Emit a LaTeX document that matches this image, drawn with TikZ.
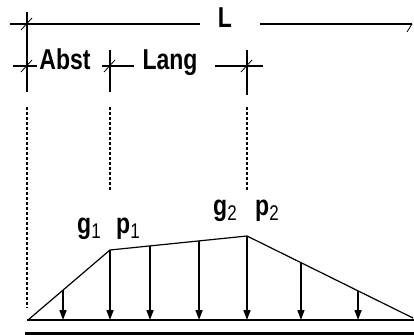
\documentclass[tikz,border=0pt]{standalone}
\usepackage{fontspec}
\setmainfont{Liberation Sans}
\usetikzlibrary{arrows.meta,calc}
\newcommand{\ldsub}[1]{\raisebox{-4pt}{\mdseries\fontsize{17}{17}\selectfont #1}}
\newcommand{\tall}[1]{\scalebox{1}[1.25]{#1}}

\begin{document}
\begin{tikzpicture}[
    x=1pt, y=-1pt,
    dimline/.style={line width=1.3pt},
    slash/.style={line width=0.8pt},
    dotline/.style={line width=1.3pt, dash pattern=on 2.5pt off 2.5pt},
    loadline/.style={line width=1.2pt},
    loadarrow/.style={line width=1.5pt, -{Triangle[width=7pt,length=10pt]}},
    lbl/.style={font=\bfseries\fontsize{23}{23}\selectfont, inner sep=0pt, anchor=base},
    dimtick/.pic={\draw[slash] (-6,6) -- (5,-6);}
]
\useasboundingbox (0,0) rectangle (414,334);

% dimension points
\coordinate (t0) at (27,24);
\coordinate (tl) at (10,24);
\coordinate (tm1) at (200,24);
\coordinate (tm2) at (260,24);
\coordinate (tr) at (412,24);
\coordinate (s0) at (27,66);
\coordinate (s1) at (110,66);
\coordinate (s2) at (247,66);

% load corners
\coordinate (q0) at (28,320);
\coordinate (q1) at (110,250);
\coordinate (q2) at (247,236);
\coordinate (q3) at (413,318);
\coordinate (b0) at (27,320);
\coordinate (b1) at (414,320);

% labels
\node[lbl] (L) at (225,28) {\tall{L}};
\node[lbl] (abst) at (65,70) {\tall{Abst}};
\node[lbl] (lang) at (170,70) {\tall{Lang}};
\node[lbl, anchor=base west] (g1) at (77,233) {\tall{g\ldsub{1}}};
\node[lbl, anchor=base west] (p1) at (116,233) {\tall{p\ldsub{1}}};
\node[lbl, anchor=base west] (g2) at (213,215) {\tall{g\ldsub{2}}};
\node[lbl, anchor=base west] (p2) at (255,215) {\tall{p\ldsub{2}}};

% overall length L
\draw[dimline] (tl) -- (tm1);
\draw[dimline] (tm2) -- (tr);
\draw[slash] (tr) -- ++(-5,8);
\pic at (t0) {dimtick};

% Abst and Lang
\draw[dimline] (27,12) -- (27,92);
\draw[dimline] (110,50) -- (110,92);
\draw[dimline] (247,50) -- (247,95);
\draw[dimline] ($(s0)+(-14,0)$) -- ($(s0)+(10,0)$);
\draw[dimline] ($(s1)+(-8,0)$) -- ($(s1)+(24,0)$);
\draw[dimline] ($(s2)+(-32,0)$) -- ($(s2)+(16,0)$);
\foreach \p in {s0,s1,s2}
    \pic at (\p) {dimtick};

% projection lines
\draw[dotline] (27,107) -- (27,308);
\draw[dotline] (110,107) -- (110,190);
\draw[dotline] (247,107) -- (247,190);

% beam
\draw[line width=1.5pt] (b0) -- (b1);
\draw[line width=3pt] (25,333) -- (414,333);

% load figure
\draw[loadline] (q0) -- (q1) -- (q2) -- (q3);
\foreach \a/\b/\t in {q0/q1/0.427, q1/q2/0, q1/q2/0.292, q1/q2/0.65, q2/q3/0, q2/q3/0.325, q2/q3/0.669} {
    \coordinate (ld) at ($(\a)!\t!(\b)$);
    \draw[loadarrow] (ld) -- (ld |- b0);
}

\end{tikzpicture}
\end{document}
